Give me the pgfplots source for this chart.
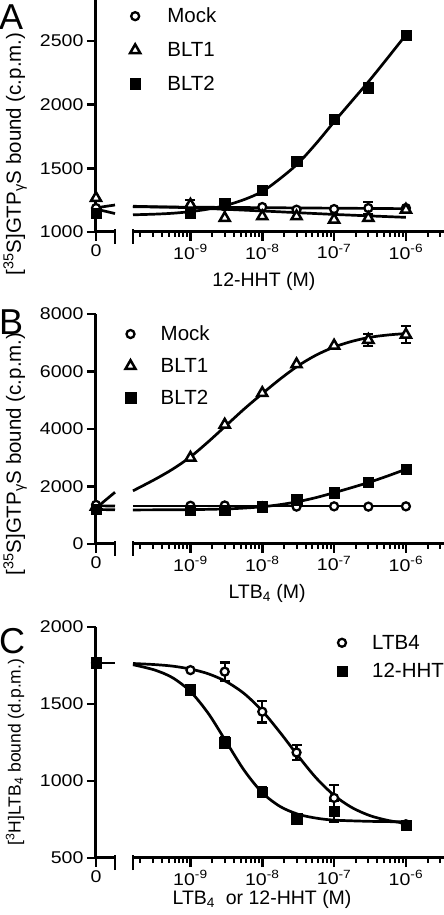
\documentclass[border=0pt]{standalone}
\usepackage{fontspec}
\setmainfont{Liberation Sans}
\newfontfamily\tickfont[FakeStretch=1.15]{Liberation Sans}
\usepackage{pgfplots}
\pgfplotsset{compat=1.18}

\pgfplotsset{
  brk/.style={
    scale only axis, anchor=south west, clip=false,
    axis line style={line width=3pt, black},
    tick align=center,
    major tick length=9pt, minor tick length=5pt,
    every major x tick/.append style={line width=2.5pt, black, yshift=-4.5pt},
    every minor x tick/.append style={line width=2pt, black, yshift=-2.5pt},
    every major y tick/.append style={line width=2.5pt, black, xshift=-4.5pt},
    xticklabel shift=4.5pt, yticklabel shift=4.5pt,
    tick label style={font=\tickfont\fontsize{17pt}{17pt}\selectfont},
    /pgf/number format/assume math mode=true,
    /pgf/number format/1000 sep={},
  },
  lseg/.style={brk, width=19pt, xmin=0, xmax=1,
    axis x line*=bottom, axis y line*=left,
    xtick={0}, xticklabels={0},
    extra x ticks={1}, extra x tick labels={},
    every extra x tick/.style={tick align=center, major tick length=15pt},
    every axis y label/.style={rotate=90, anchor=center, font=\fontsize{20.5pt}{20.5pt}\selectfont},
  },
  rseg/.style={brk, width=311pt, xmin=1.585e-10, xmax=3.39e-6,
    axis x line*=bottom, axis y line*=left,
    y axis line style={draw=none}, ytick=\empty,
    xtick={1e-9,1e-8,1e-7,1e-6},
    xticklabels={10\textsuperscript{-9},10\textsuperscript{-8},10\textsuperscript{-7},10\textsuperscript{-6}},
    minor xtick={2e-10,3e-10,4e-10,5e-10,6e-10,7e-10,8e-10,9e-10,
                 2e-9,3e-9,4e-9,5e-9,6e-9,7e-9,8e-9,9e-9,
                 2e-8,3e-8,4e-8,5e-8,6e-8,7e-8,8e-8,9e-8,
                 2e-7,3e-7,4e-7,5e-7,6e-7,7e-7,8e-7,9e-7,
                 2e-6,3e-6},
    extra x ticks={1.585e-10}, extra x tick labels={},
    every extra x tick/.style={tick align=center, major tick length=15pt},
    every axis x label/.style={anchor=base, font=\fontsize{19.5pt}{19.5pt}\selectfont},
    legend cell align=left,
  },
  curve/.style={no marks, line width=2.7pt, black, smooth},
  mkO/.style={only marks, mark=*, mark size=4pt, mark options={fill=white, draw=black, line width=2.3pt}},
  mkT/.style={only marks, mark=triangle*, mark size=5.8pt, mark options={fill=white, draw=black, line width=2.5pt}},
  mkS/.style={only marks, mark=square*, mark size=5.2pt, mark options={fill=black, draw=black}},
  err/.style={error bars/.cd, y dir=both, y explicit,
    error bar style={line width=2.2pt, black},
    error mark options={rotate=90, mark size=5pt, line width=2.2pt, black}},
}
\pgfplotsset{legend image code/.code={\draw[#1] plot coordinates {(0pt,0pt)};}}

\begin{document}
\begin{tikzpicture}
\useasboundingbox (0pt,0pt) rectangle (444pt,915pt);

% ---------------- Panel A ----------------
\begin{axis}[lseg, at={(96pt,683pt)}, height=232pt, ymin=1000, ymax=2822,
  ytick={1000,1500,2000,2500},
  ylabel={[\textsuperscript{35}S]GTP\textsubscript{γ}S bound (c.p.m.)},
  every axis y label/.append style={at={(axis description cs:-4.26,0.336)}}]
\addplot[curve] coordinates {(0,1190) (1,1212)};
\addplot[curve] coordinates {(0,1180) (1,1145)};
\addplot[mkT] coordinates {(0,1267)};
\addplot[mkO] coordinates {(0,1188)};
\addplot[mkS] coordinates {(0,1149)};
\end{axis}

\begin{axis}[xmode=log, rseg, at={(133pt,683pt)}, height=232pt, ymin=1000, ymax=2822,
  xlabel={12-HHT (M)},
  every axis x label/.append style={at={(axis description cs:0.421,-0.233)}},
  legend style={draw=none, fill=none, at={(axis description cs:-0.02,0.975)}, anchor=north west,
    font=\fontsize{20.5pt}{20.5pt}\selectfont, row sep=18pt, column sep=27pt, nodes={inner sep=0pt}}]
\addplot[curve, forget plot] coordinates {(1.585e-10,1198) (1e-6,1183)};
\addplot[curve, forget plot] coordinates {(1.585e-10,1202) (1e-9,1190) (1e-8,1165) (1e-7,1138) (1e-6,1115)};
\addplot[curve, forget plot] coordinates {
 (1.585e-10,1135) (3.162e-10,1140) (5.623e-10,1147) (1e-9,1160) (1.778e-9,1180)
 (3.162e-9,1210) (5.623e-9,1255) (1e-8,1318) (1.778e-8,1420) (3.162e-8,1540)
 (5.623e-8,1695) (1e-7,1865) (1.778e-7,2030) (3.162e-7,2195) (5.623e-7,2370) (1e-6,2548)};
\addplot[mkO, err] coordinates {(1e-9,1201) (3e-9,1200) (1e-8,1196) (3e-8,1175) (1e-7,1180) (3e-7,1188) +- (0,45) (1e-6,1188)};
\addlegendentry{Mock}
\addplot[mkT, err] coordinates {(1e-9,1214) +- (0,40) (3e-9,1110) (1e-8,1123) (3e-8,1123) (1e-7,1097) (3e-7,1110) (1e-6,1175)};
\addlegendentry{BLT1}
\addplot[mkS] coordinates {(1e-9,1149) (3e-9,1222) (1e-8,1327) (3e-8,1554) (1e-7,1886) (3e-7,2134) (1e-6,2547)};
\addlegendentry{BLT2}
\end{axis}

% ---------------- Panel B ----------------
\begin{axis}[lseg, at={(96pt,371pt)}, height=230pt, ymin=0, ymax=8000,
  ytick={0,2000,4000,6000,8000},
  ylabel={[\textsuperscript{35}S]GTP\textsubscript{γ}S bound (c.p.m.)},
  every axis y label/.append style={at={(axis description cs:-4.26,0.391)}}]
\addplot[curve] coordinates {(0,1330) (1,1320)};
\addplot[curve] coordinates {(0,1200) (1,1190)};
\addplot[curve] coordinates {(0,1250) (1,1800)};
\addplot[mkT] coordinates {(0,1300)};
\addplot[mkO] coordinates {(0,1360)};
\addplot[mkS] coordinates {(0,1200)};
\end{axis}

\begin{axis}[xmode=log, rseg, at={(133pt,371pt)}, height=230pt, ymin=0, ymax=8000,
  xlabel={LTB\textsubscript{4} (M)},
  every axis x label/.append style={at={(axis description cs:0.431,-0.235)}},
  legend style={draw=none, fill=none, at={(axis description cs:-0.035,0.958)}, anchor=north west,
    font=\fontsize{20.5pt}{20.5pt}\selectfont, row sep=16pt, column sep=25pt, nodes={inner sep=0pt}}]
\addplot[curve, forget plot] coordinates {(1.585e-10,1320) (1e-6,1320)};
\addplot[curve, forget plot] coordinates {
 (1.585e-10,1850) (3.162e-10,2240) (5.623e-10,2600) (1e-9,3030) (1.778e-9,3560)
 (3.162e-9,4130) (5.623e-9,4700) (1e-8,5230) (1.778e-8,5740) (3.162e-8,6200)
 (5.623e-8,6570) (1e-7,6850) (1.778e-7,7050) (3.162e-7,7190) (5.623e-7,7270) (1e-6,7320)};
\addplot[curve, forget plot] coordinates {
 (1.585e-10,1185) (3.162e-10,1188) (1e-9,1195) (3.162e-9,1220) (5.623e-9,1250)
 (1e-8,1295) (1.778e-8,1370) (3.162e-8,1475) (5.623e-8,1615) (1e-7,1785)
 (1.778e-7,1965) (3.162e-7,2155) (5.623e-7,2370) (1e-6,2600)};
\addplot[mkO] coordinates {(1e-9,1330) (3e-9,1340) (1e-8,1320) (3e-8,1300) (1e-7,1310) (3e-7,1300) (1e-6,1310)};
\addlegendentry{Mock}
\addplot[mkT, err] coordinates {(1e-9,3000) (3e-9,4150) (1e-8,5250) (3e-8,6250) (1e-7,6900) (3e-7,7100) +- (0,200) (1e-6,7280) +- (0,300)};
\addlegendentry{BLT1}
\addplot[mkS] coordinates {(1e-9,1170) (3e-9,1180) (1e-8,1300) (3e-8,1540) (1e-7,1790) (3e-7,2140) (1e-6,2600)};
\addlegendentry{BLT2}
\end{axis}

% ---------------- Panel C ----------------
\begin{axis}[lseg, at={(96pt,57pt)}, height=231pt, ymin=500, ymax=2000,
  ytick={500,1000,1500,2000},
  ylabel={[\textsuperscript{3}H]LTB\textsubscript{4} bound (d.p.m.)},
  every axis y label/.append style={at={(axis description cs:-4.26,0.459)}, font=\fontsize{17.5pt}{17.5pt}\selectfont}]
\addplot[curve] coordinates {(0,1767) (1,1767)};
\addplot[mkO] coordinates {(0,1767)};
\addplot[mkS] coordinates {(0,1767)};
\end{axis}

\begin{axis}[xmode=log, rseg, at={(133pt,57pt)}, height=231pt, ymin=500, ymax=2000,
  xlabel={LTB\textsubscript{4}\ \ or 12-HHT (M)},
  every axis x label/.append style={at={(axis description cs:0.415,-0.2)}},
  legend style={draw=none, fill=none, at={(axis description cs:0.645,0.975)}, anchor=north west,
    font=\fontsize{20.5pt}{20.5pt}\selectfont, row sep=13pt, column sep=25pt, nodes={inner sep=0pt}}]
\addplot[curve, forget plot] coordinates {
 (1.585e-10,1763) (3.162e-10,1756) (5.623e-10,1746) (1e-9,1727) (1.778e-9,1696)
 (3.162e-9,1645) (5.623e-9,1567) (1e-8,1455) (1.778e-8,1314) (3.162e-8,1162)
 (5.623e-8,1020) (1e-7,907) (1.778e-7,827) (3.162e-7,775) (5.623e-7,744) (1e-6,725)};
\addplot[curve, forget plot] coordinates {
 (1.585e-10,1755) (3.162e-10,1721) (5.623e-10,1671) (1e-9,1581) (1.778e-9,1438)
 (3.162e-9,1253) (5.623e-9,1068) (1e-8,924) (1.778e-8,834) (3.162e-8,784)
 (5.623e-8,759) (1e-7,746) (3.162e-7,738) (1e-6,735)};
\addplot[mkO, err] coordinates {(1e-9,1720) (3e-9,1710) +- (0,60) (1e-8,1450) +- (0,70) (3e-8,1185) +- (0,50) (1e-7,890) +- (0,85) (1e-6,719) +- (0,20)};
\addlegendentry{LTB4}
\addplot[mkS, err] coordinates {(1e-9,1593) (3e-9,1249) +- (0,35) (1e-8,929) +- (0,30) (3e-8,755) (1e-7,803) +- (0,70) (1e-6,712) +- (0,25)};
\addlegendentry{12-HHT}
\end{axis}

\node[font=\fontsize{36pt}{36pt}\selectfont, inner sep=0pt, anchor=north west] at (-1pt,910pt) {A};
\node[font=\fontsize{36pt}{36pt}\selectfont, inner sep=0pt, anchor=north west] at (-1pt,605pt) {B};
\node[font=\fontsize{36pt}{36pt}\selectfont, inner sep=0pt, anchor=north west] at (-1pt,287pt) {C};
\end{tikzpicture}
\end{document}
